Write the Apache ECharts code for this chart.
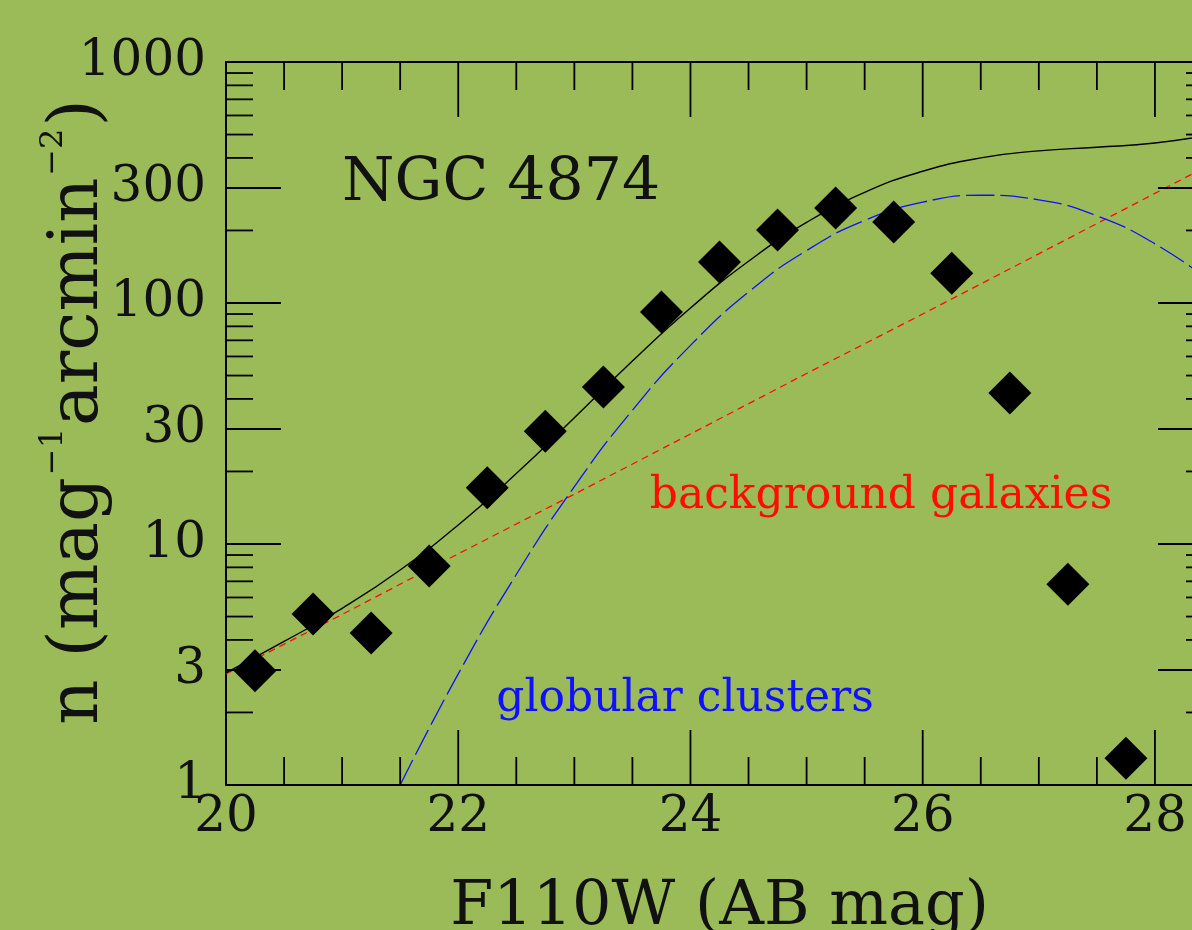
<!DOCTYPE html>
<html>
<head>
<meta charset="utf-8">
<style>
  html, body { margin: 0; padding: 0; background: #9BBB59; }
  #chart { width: 1192px; height: 930px; }
</style>
<script src="https://cdn.jsdelivr.net/npm/echarts@6/dist/echarts.min.js"></script>
</head>
<body>
<div id="chart"></div>
<script>
// ---- data ----
const magBins = [20.25, 20.75, 21.25, 21.75, 22.25, 22.75, 23.25, 23.75, 24.25, 24.75, 25.25, 25.75, 26.25, 26.75, 27.25, 27.75, 28.25];
const counts  = [2.98, 5.12, 4.27, 8.1, 17.1, 29.4, 44.8, 91.8, 148, 201, 248, 217, 133, 42.3, 6.8, 1.29, 0.87];

const bgMag = [20, 21, 22, 23, 24, 25, 26, 27, 28, 28.5];
const bgVal = [2.89, 5.1, 9.1, 16.1, 28.6, 51, 90, 160, 285, 380];

const gcMag = [21.5, 22, 22.5, 23, 23.5, 24, 24.5, 25, 25.5, 26, 26.5, 27, 27.5, 28, 28.5];
const gcVal = [1.0, 2.89, 7.47, 17.3, 35.9, 66.7, 111, 165, 220, 262, 280, 268, 230, 176, 121];

const totMag = [20, 20.5, 21, 21.5, 22, 22.5, 23, 23.5, 24, 24.5, 25, 25.5, 26, 26.5, 27, 27.5, 28, 28.5];
const totVal = [2.92, 3.94, 5.41, 7.8, 12.0, 19.6, 33.4, 57.4, 95.3, 149, 216, 288, 352, 400, 428, 443, 461, 501];

const xLabels = [20, 22, 24, 26, 28];
const yLabels = [1, 3, 10, 30, 100, 300, 1000];
const xMajorTicks = [20, 22, 24, 26, 28];
const xMinorTicks = [20.5, 21, 21.5, 22.5, 23, 23.5, 24.5, 25, 25.5, 26.5, 27, 27.5, 28.5];
const yMajorTicks = [1, 3, 10, 30, 100, 300, 1000];
const yMinorTicks = [2, 4, 5, 6, 7, 8, 9, 20, 40, 50, 60, 70, 80, 90, 200, 400, 500, 600, 700, 800, 900];

const X_MIN = 20, X_MAX = 28.5, Y_MIN = 1, Y_MAX = 1000;

const zip = (a, b) => a.map((v, i) => [v, b[i]]);

const tickData = []
  .concat(xMajorTicks.map(v => ['x', v, 55]))
  .concat(xMinorTicks.map(v => ['x', v, 28]))
  .concat(yMajorTicks.map(v => ['y', v, 55]))
  .concat(yMinorTicks.map(v => ['y', v, 27]));

const FONT = '"DejaVu Serif", serif';
const chart = echarts.init(document.getElementById('chart'));

const axisLineStyle = { color: '#000', width: 2 };

chart.setOption({
  backgroundColor: '#9BBB59',
  animation: false,
  grid: { left: 226, top: 62, width: 987, height: 723, containLabel: false, outerBoundsMode: 'none' },
  xAxis: [
    {
      type: 'value', min: X_MIN, max: X_MAX, interval: 2, position: 'bottom',
      axisLine: { show: true, onZero: false, lineStyle: axisLineStyle },
      axisTick: { show: false }, splitLine: { show: false },
      axisLabel: { customValues: xLabels, color: '#111', fontFamily: FONT, fontSize: 50, margin: 8 },
      name: 'F110W (AB mag)', nameLocation: 'middle', nameGap: 92,
      nameTextStyle: { color: '#111', fontFamily: FONT, fontSize: 62 }
    },
    {
      type: 'value', min: X_MIN, max: X_MAX, interval: 2, position: 'top',
      axisLine: { show: true, onZero: false, lineStyle: axisLineStyle },
      axisTick: { show: false }, splitLine: { show: false }, axisLabel: { show: false }
    }
  ],
  yAxis: [
    {
      type: 'log', logBase: 10, min: Y_MIN, max: Y_MAX, position: 'left',
      axisLine: { show: true, onZero: false, lineStyle: axisLineStyle },
      axisTick: { show: false }, splitLine: { show: false },
      axisLabel: { customValues: yLabels, color: '#111', fontFamily: FONT, fontSize: 50, margin: 20,
                   formatter: v => String(Math.round(v)) }
    },
    {
      type: 'log', logBase: 10, min: Y_MIN, max: Y_MAX, position: 'right',
      axisLine: { show: true, onZero: false, lineStyle: axisLineStyle },
      axisTick: { show: false }, splitLine: { show: false }, axisLabel: { show: false }
    }
  ],
  graphic: [
    { type: 'text', x: 501, y: 154, style: { text: 'NGC 4874', font: '60px ' + FONT, fill: '#111', align: 'center', verticalAlign: 'top' } },
    { type: 'text', x: 881, y: 475, style: { text: 'background galaxies', font: '44px ' + FONT, fill: '#ff0d00', align: 'center', verticalAlign: 'top' } },
    { type: 'text', x: 685, y: 678, style: { text: 'globular clusters', font: '44px ' + FONT, fill: '#1010ff', align: 'center', verticalAlign: 'top' } },
    {
      type: 'text', x: 74, y: 412, rotation: Math.PI / 2,
      style: {
        text: '{m|n (mag}{s|−1}{m|arcmin}{s|−2}{m|)}',
        align: 'center', verticalAlign: 'middle',
        rich: {
          m: { fontFamily: FONT, fontSize: 70, lineHeight: 80, fill: '#111', verticalAlign: 'bottom' },
          s: { fontFamily: FONT, fontSize: 32, lineHeight: 80, fill: '#111', verticalAlign: 'top', padding: [4, 2, 0, 2] }
        }
      }
    }
  ],
  series: [
    {
      name: 'ticks', type: 'custom', coordinateSystem: 'cartesian2d', clip: false, silent: true, z: 5,
      data: tickData,
      renderItem: function (params, api) {
        const axis = tickData[params.dataIndex][0];
        const v = api.value(1);
        const len = api.value(2);
        const style = { stroke: '#000', lineWidth: 1.8 };
        if (axis === 'x') {
          const b = api.coord([v, Y_MIN]);
          const t = api.coord([v, Y_MAX]);
          return { type: 'group', children: [
            { type: 'line', shape: { x1: b[0], y1: b[1], x2: b[0], y2: b[1] - len }, style },
            { type: 'line', shape: { x1: t[0], y1: t[1], x2: t[0], y2: t[1] + len }, style }
          ]};
        } else {
          const l = api.coord([X_MIN, v]);
          const r = api.coord([X_MAX, v]);
          return { type: 'group', children: [
            { type: 'line', shape: { x1: l[0], y1: l[1], x2: l[0] + len, y2: l[1] }, style },
            { type: 'line', shape: { x1: r[0], y1: r[1], x2: r[0] - len, y2: r[1] }, style }
          ]};
        }
      },
      encode: { x: 1, y: 1 }
    },
    {
      name: 'background galaxies', type: 'line', data: zip(bgMag, bgVal), showSymbol: false, smooth: false,
      lineStyle: { color: '#ff0d00', width: 1.3, type: [7, 5] }, z: 3
    },
    {
      name: 'globular clusters', type: 'line', data: zip(gcMag, gcVal), showSymbol: false, smooth: true,
      lineStyle: { color: '#1010ff', width: 1.3, type: [28, 6] }, z: 3
    },
    {
      name: 'total', type: 'line', data: zip(totMag, totVal), showSymbol: false, smooth: true,
      lineStyle: { color: '#000', width: 1.4 }, z: 4
    },
    {
      name: 'counts', type: 'scatter', data: zip(magBins, counts), symbol: 'diamond', symbolSize: 43,
      itemStyle: { color: '#000', opacity: 1 }, z: 6
    }
  ]
});
</script>
</body>
</html>
